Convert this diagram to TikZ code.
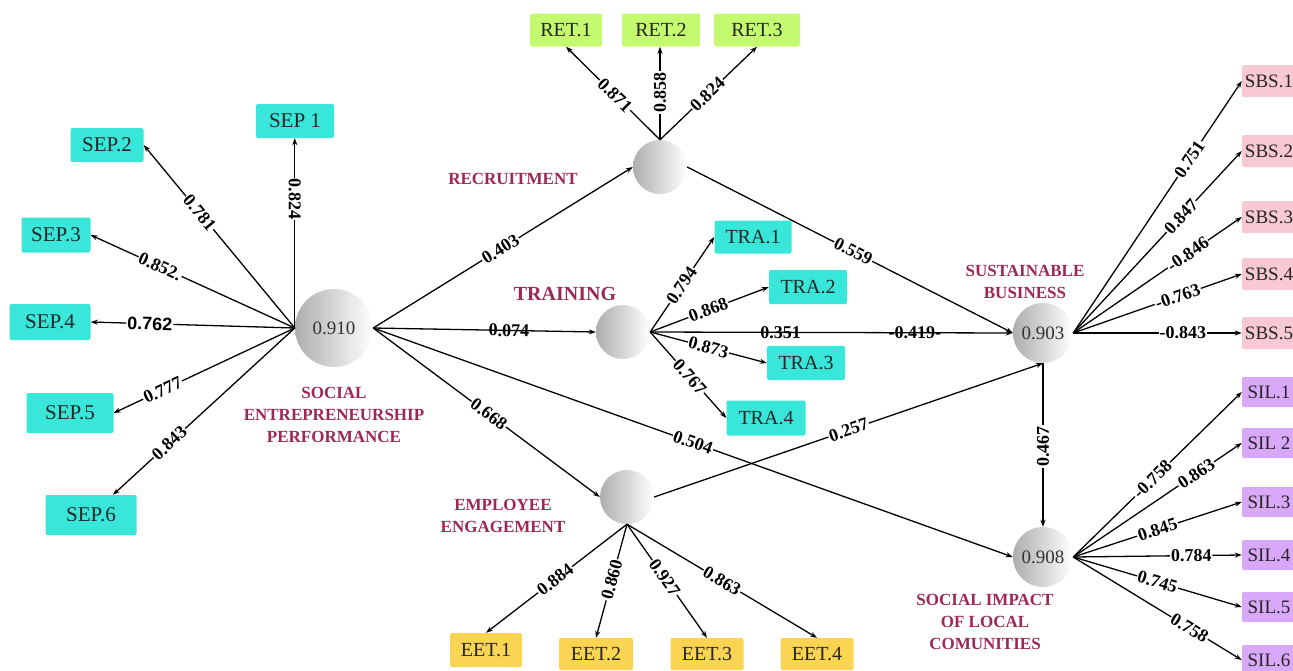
\documentclass[tikz,border=0pt]{standalone}
\usepackage{fontspec}
\setmainfont{Liberation Serif}
\newfontfamily\labsans{Liberation Sans}
\usetikzlibrary{arrows.meta}
\definecolor{cyanbox}{RGB}{56,230,218}
\definecolor{greenbox}{RGB}{196,250,112}
\definecolor{pinkbox}{RGB}{248,200,212}
\definecolor{violetbox}{RGB}{218,168,248}
\definecolor{goldbox}{RGB}{250,212,82}
\definecolor{maroon}{RGB}{158,40,84}
\begin{document}
\begin{tikzpicture}[x=1pt,y=-1pt,
  ind/.style={rounded corners=2pt, inner sep=0pt, minimum height=34pt, font=\fontsize{20}{20}\selectfont, text=black!85},
  sepbox/.style={ind, fill=cyanbox},
  retbox/.style={ind, fill=greenbox},
  sbsbox/.style={ind, fill=pinkbox, minimum width=54pt, minimum height=32pt, font=\fontsize{19}{19}\selectfont},
  silbox/.style={ind, fill=violetbox, minimum width=54pt, minimum height=30pt, font=\fontsize{19}{19}\selectfont},
  eetbox/.style={ind, fill=goldbox},
  lat/.style={circle, minimum size=#1, inner sep=0pt, left color=black!32, right color=white, font=\fontsize{19}{19}\selectfont, text=black!80},
  lname/.style={font=\fontsize{17}{22}\selectfont\bfseries, text=maroon, align=center},
  arr/.style={draw, line width=1.3pt, -{Stealth[length=7pt,width=5pt]}},
  lb/.style={font=\fontsize{18}{18}\selectfont\bfseries, fill=white, inner sep=1pt},
  lbs/.style={lb, sloped},
  lbn/.style={font=\fontsize{18}{18}\selectfont\bfseries, inner sep=1pt, sloped},
]
\useasboundingbox (0,0) rectangle (1293,670);

% latent variables
\node[lat=78pt] (sep) at (334,328) {0.910};
\node[lat=54pt] (rec) at (660,167) {};
\node[lat=54pt] (tra) at (623,332) {};
\node[lat=54pt] (ee) at (627,497) {};
\node[lat=60pt] (sb) at (1043,333) {0.903};
\node[lat=60pt] (sil) at (1043,557) {0.908};

% latent names
\node[lname] (sepname) at (334,415) {SOCIAL\\ENTREPRENEURSHIP\\PERFORMANCE};
\node[lname] (recname) at (513,179) {RECRUITMENT};
\node[lname, font=\fontsize{20}{20}\selectfont\bfseries] (traname) at (565,294) {TRAINING};
\node[lname] (sbname) at (1025,282) {SUSTAINABLE\\BUSINESS};
\node[lname] (silname) at (985,622) {SOCIAL IMPACT\\OF LOCAL\\COMUNITIES};
\node[lname] (eename) at (503,516) {EMPLOYEE\\ENGAGEMENT};

% SEP indicators
\node[sepbox, minimum width=78pt, font=\fontsize{21}{21}\selectfont] (sep1) at (295,121) {SEP 1};
\node[sepbox, minimum width=73pt, font=\fontsize{21}{21}\selectfont] (sep2) at (107,145) {SEP.2};
\node[sepbox, minimum width=69pt, minimum height=35pt, font=\fontsize{21}{21}\selectfont] (sep3) at (56,235) {SEP.3};
\node[sepbox, minimum width=81pt, minimum height=36pt, font=\fontsize{21}{21}\selectfont] (sep4) at (50,322) {SEP.4};
\node[sepbox, minimum width=87pt, minimum height=40pt, font=\fontsize{21}{21}\selectfont] (sep5) at (70,413) {SEP.5};
\node[sepbox, minimum width=91pt, minimum height=40pt, font=\fontsize{21}{21}\selectfont] (sep6) at (91,515) {SEP.6};

% RET indicators
\node[retbox, minimum width=72pt, minimum height=33pt] (ret1) at (566,30) {RET.1};
\node[retbox, minimum width=78pt, minimum height=33pt] (ret2) at (661,30) {RET.2};
\node[retbox, minimum width=86pt, minimum height=33pt] (ret3) at (757,30) {RET.3};

% TRA indicators
\node[sepbox, minimum width=77pt, minimum height=33pt] (tra1) at (753,237) {TRA.1};
\node[sepbox, minimum width=78pt] (tra2) at (808,287) {TRA.2};
\node[sepbox, minimum width=78pt] (tra3) at (806,363) {TRA.3};
\node[sepbox, minimum width=79pt, minimum height=35pt] (tra4) at (766,418) {TRA.4};

% SBS indicators
\node[sbsbox] (sbs1) at (1269,81) {SBS.1};
\node[sbsbox] (sbs2) at (1269,151) {SBS.2};
\node[sbsbox] (sbs3) at (1269,217) {SBS.3};
\node[sbsbox] (sbs4) at (1269,274) {SBS.4};
\node[sbsbox] (sbs5) at (1269,333) {SBS.5};

% SIL indicators
\node[silbox] (sil1) at (1269,392) {SIL.1};
\node[silbox] (sil2) at (1269,443) {SIL 2};
\node[silbox] (sil3) at (1269,502) {SIL.3};
\node[silbox] (sil4) at (1269,555) {SIL.4};
\node[silbox] (sil5) at (1269,607) {SIL.5};
\node[silbox] (sil6) at (1269,660) {SIL.6};

% EET indicators
\node[eetbox, minimum width=72pt] (eet1) at (486,650) {EET.1};
\node[eetbox, minimum width=74pt, minimum height=32pt] (eet2) at (596,654) {EET.2};
\node[eetbox, minimum width=73pt, minimum height=32pt] (eet3) at (707,654) {EET.3};
\node[eetbox, minimum width=73pt, minimum height=32pt] (eet4) at (817,654) {EET.4};

% SEP loadings
\draw[arr] (sep.west) -- node[lb, rotate=-90, pos=0.68] {0.824} (sep.west |- sep1.south);
\draw[arr] (sep.west) -- node[lbs, pos=0.63] {0.781} (sep2.east);
\draw[arr] (sep.west) -- node[lbs, pos=0.66] {0.852.} (sep3.east);
\draw[arr] (sep.west) -- node[lbs, pos=0.71, font=\labsans\fontsize{18}{18}\selectfont\bfseries] {0.762} (sep4.east);
\draw[arr] (sep.west) -- node[lbs, pos=0.73] {0.777} (sep5.east);
\draw[arr] (sep.west) -- node[lbs, pos=0.69] {0.843} (sep6);

% RET loadings
\draw[arr] (rec.north) -- node[lbs, pos=0.48] {0.871} (ret1.south);
\draw[arr] (rec.north) -- node[lb, rotate=90, pos=0.51] {0.858} (rec.north |- ret2.south);
\draw[arr] (rec.north) -- node[lbs, pos=0.49] {0.824} (ret3.south);

% TRA loadings
\draw[arr] (tra.east) -- node[lbs, pos=0.49] {0.794} (tra1.west);
\draw[arr] (tra.east) -- node[lbs, pos=0.49] {0.868} (tra2.west);
\draw[arr] (tra.east) -- node[lbs, pos=0.50] {0.873} (tra3.west);
\draw[arr] (tra.east) -- node[lbs, pos=0.52] {0.767} (tra4.west);

% SBS loadings
\draw[arr] (sb.east) -- node[lbs, pos=0.69] {0.751} (sbs1.west);
\draw[arr] (sb.east) -- node[lbs, pos=0.64] {0.847} (sbs2.west);
\draw[arr] (sb.east) -- node[lbs, pos=0.68] {-0.846} (sbs3.west);
\draw[arr] (sb.east) -- node[lbs, pos=0.62] {-0.763} (sbs4.west);
\draw[arr] (sb.east) -- node[lbs, pos=0.65] {-0.843} (sbs5.west);

% SIL loadings
\draw[arr] (sil.east) -- node[lbs, pos=0.47] {-0.758} (sil1.west);
\draw[arr] (sil.east) -- node[lbs, pos=0.73] {0.863} (sil2.west);
\draw[arr] (sil.east) -- node[lbs, pos=0.50] {0.845} (sil3.west);
\draw[arr] (sil.east) -- node[lbs, pos=0.70] {0.784} (sil4.west);
\draw[arr] (sil.east) -- node[lbs, pos=0.50] {0.745} (sil5.west);
\draw[arr] (sil.east) -- node[lbs, pos=0.69] {0.758} (sil6.west);

% EET loadings
\draw[arr] (ee.south) -- node[lbs, pos=0.51] {0.884} (eet1.north);
\draw[arr] (ee.south) -- node[lbs, pos=0.49] {0.860} (eet2.north);
\draw[arr] (ee.south) -- node[lbs, pos=0.47] {0.927} (eet3.north);
\draw[arr] (ee.south) -- node[lbs, pos=0.50] {0.863} (eet4.north);

% structural paths
\draw[arr] (sep.east) -- node[lbs, pos=0.49] {0.403} (rec.west);
\draw[arr] (rec.east) -- node[lbs, pos=0.51] {0.559} (sb.west);
\draw[arr] (sep.east) -- node[lbn, pos=0.61] {0.074} (tra.west);
\draw[arr] (tra.east) -- node[lbn, pos=0.36] {0.351} node[lbn, pos=0.73] {-0.419-} (sb.west);
\draw[arr] (sep.east) -- node[lbs, pos=0.51] {0.668} (ee.west);
\draw[arr] (sep.east) -- node[lbs, pos=0.50] {0.504} (sil.west);
\draw[arr] (ee.east) -- node[lbs, pos=0.50] {0.257} (sb.south);
\draw[arr] (sb.south) -- node[lb, rotate=90, pos=0.51] {0.467} (sil.north);
\end{tikzpicture}
\end{document}
